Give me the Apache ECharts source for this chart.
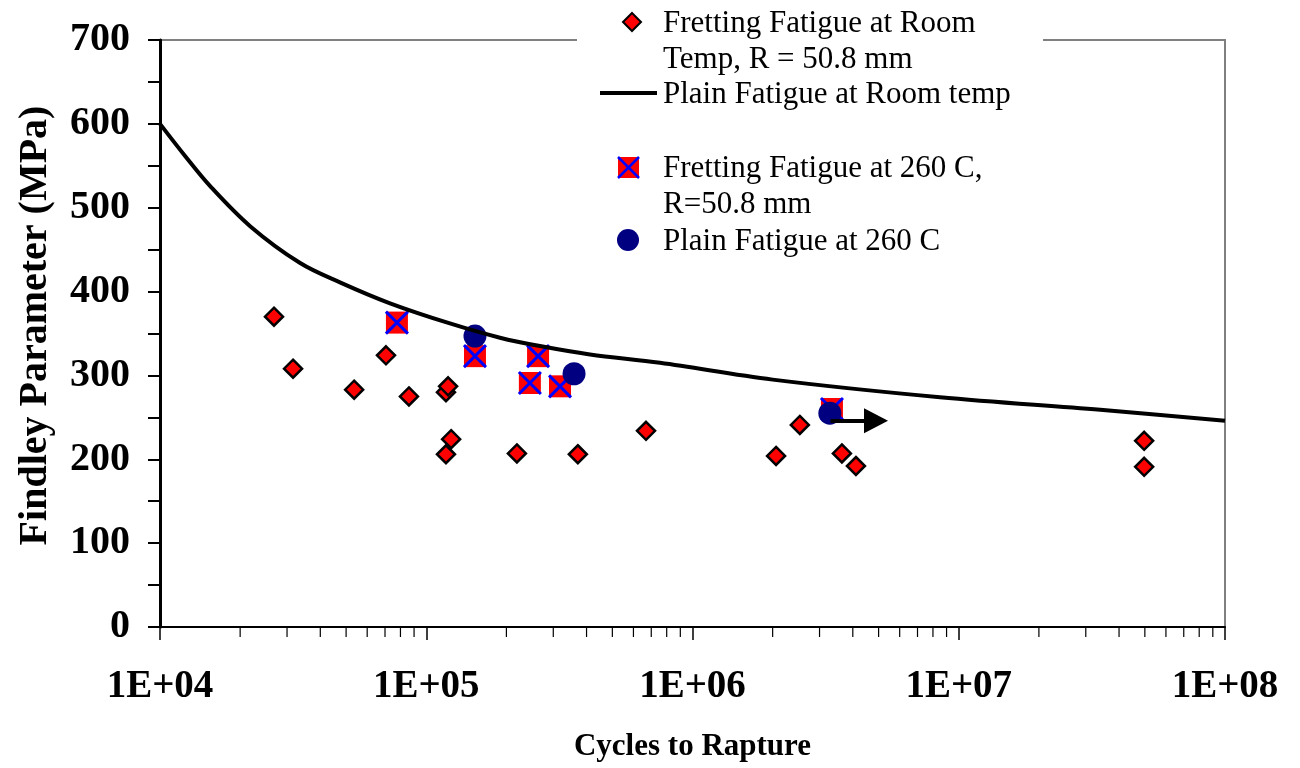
<!DOCTYPE html>
<html>
<head>
<meta charset="utf-8">
<script src="https://cdn.jsdelivr.net/npm/echarts@6/dist/echarts.min.js"></script>
<style>
  html, body { margin: 0; padding: 0; background: #fff; }
  #chart-container { width: 1300px; height: 768px; }
</style>
</head>
<body>
<div id="chart-container"></div>
<script>
'use strict';

// Fretting fatigue at room temp, R = 50.8 mm  [cycles, MPa]
const frettingRoom = [
    [26800, 370], [31600, 308], [53600, 283], [70600, 324], [86100, 275],
    [118600, 280], [120800, 287], [124000, 224], [118600, 206], [219000, 207],
    [371000, 206], [669000, 234], [2060000, 204], [2530000, 241], [3640000, 207],
    [4110000, 192], [49700000, 222], [49700000, 191]
];

// Plain fatigue at room temp (curve)
const plainRoom = [
    [10000, 600], [12400, 562], [15400, 526], [21800, 478], [33600, 434],
    [47400, 411], [73100, 386], [122700, 362], [189200, 345], [267300, 335],
    [412000, 325], [755000, 315], [2000000, 295], [8500000, 274], [34000000, 259],
    [100000000, 246]
];

// Fretting fatigue at 260 C, R = 50.8 mm
const fretting260 = [
    [77600, 363], [152400, 323], [263000, 323], [245000, 291], [318000, 287], [3340000, 260]
];

// Plain fatigue at 260 C
const plain260 = [
    [152400, 347], [359000, 302], [3280000, 255]
];

// run-out arrow on the last plain 260 C point
const runoutArrow = [[3300000, 246], [4890000, 246]];

// log minor ticks 2..9 in every decade
const minorTicks = [
    20000, 30000, 40000, 50000, 60000, 70000, 80000, 90000,
    200000, 300000, 400000, 500000, 600000, 700000, 800000, 900000,
    2000000, 3000000, 4000000, 5000000, 6000000, 7000000, 8000000, 9000000,
    20000000, 30000000, 40000000, 50000000, 60000000, 70000000, 80000000, 90000000
];

const xTickLabels = { 10000: '1E+04', 100000: '1E+05', 1000000: '1E+06', 10000000: '1E+07', 100000000: '1E+08' };

const serif = '"Liberation Serif", "Times New Roman", "DejaVu Serif", serif';

const myChart = echarts.init(document.getElementById('chart-container'), null, { renderer: 'canvas' });

const option = {
    backgroundColor: '#fff',
    animation: false,
    grid: {
        left: 160,
        right: 75,
        top: 40,
        bottom: 141,
        outerBoundsMode: 'none',
        containLabel: false,
        show: true,
        borderColor: '#808080',
        borderWidth: 2
    },
    xAxis: {
        type: 'log',
        logBase: 10,
        min: 10000,
        max: 100000000,
        name: 'Cycles to Rapture',
        nameLocation: 'middle',
        nameGap: 104,
        nameTextStyle: { fontFamily: serif, fontWeight: 'bold', fontSize: 31, color: '#000' },
        axisLine: { lineStyle: { color: '#000', width: 2 } },
        axisTick: { inside: false, length: 13, lineStyle: { color: '#000', width: 1.5 } },
        minorTick: { show: false },
        splitLine: { show: false },
        axisLabel: {
            margin: 40,
            fontFamily: serif,
            fontWeight: 'bold',
            fontSize: 39,
            color: '#000',
            formatter: (v) => xTickLabels[Math.round(v)] || ''
        }
    },
    yAxis: {
        type: 'value',
        min: 0,
        max: 700,
        interval: 50,
        name: 'Findley Parameter (MPa)',
        nameLocation: 'middle',
        nameGap: 104,
        nameRotate: 90,
        nameTextStyle: { fontFamily: serif, fontWeight: 'bold', fontSize: 40, color: '#000', padding: [0, 0, 0, 16] },
        axisLine: { show: true, lineStyle: { color: '#000', width: 3 } },
        axisTick: { show: true, inside: false, length: 12, lineStyle: { color: '#000', width: 2 } },
        splitLine: { show: false },
        axisLabel: {
            margin: 30,
            fontFamily: serif,
            fontWeight: 'bold',
            fontSize: 40,
            color: '#000',
            formatter: (v) => (v % 100 === 0 ? String(v) : '')
        }
    },
    series: [
        {
            name: 'minor ticks',
            type: 'custom',
            clip: false,
            silent: true,
            data: minorTicks.map(v => [v, 0]),
            encode: { x: 0, y: 1 },
            renderItem: (params, api) => {
                const p = api.coord([api.value(0), 0]);
                return {
                    type: 'line',
                    shape: { x1: p[0], y1: p[1], x2: p[0], y2: p[1] + 10 },
                    style: { stroke: '#000', lineWidth: 1.2 }
                };
            }
        },
        {
            name: 'Fretting Fatigue at Room Temp, R = 50.8 mm',
            type: 'scatter',
            symbol: 'diamond',
            symbolSize: 18,
            data: frettingRoom,
            itemStyle: { color: '#ff0000', borderColor: '#000', borderWidth: 2.5, opacity: 1 }
        },
        {
            name: 'Plain Fatigue at Room temp',
            type: 'line',
            smooth: 0.35,
            showSymbol: false,
            symbol: 'none',
            data: plainRoom,
            lineStyle: { color: '#000', width: 4 }
        },
        {
            name: 'Fretting Fatigue at 260 C, R=50.8 mm',
            type: 'custom',
            data: fretting260,
            encode: { x: 0, y: 1 },
            renderItem: (params, api) => {
                const p = api.coord([api.value(0), api.value(1)]);
                const h = 11;
                return {
                    type: 'group',
                    children: [
                        { type: 'rect', shape: { x: p[0] - h, y: p[1] - h, width: 2 * h, height: 2 * h }, style: { fill: '#ff0000' } },
                        { type: 'line', shape: { x1: p[0] - h, y1: p[1] - h, x2: p[0] + h, y2: p[1] + h }, style: { stroke: '#0000ff', lineWidth: 3 } },
                        { type: 'line', shape: { x1: p[0] + h, y1: p[1] - h, x2: p[0] - h, y2: p[1] + h }, style: { stroke: '#0000ff', lineWidth: 3 } }
                    ]
                };
            }
        },
        {
            name: 'run-out',
            type: 'line',
            data: [],
            markLine: {
                silent: true,
                symbol: ['none', 'triangle'],
                symbolSize: [25, 24],
                label: { show: false },
                lineStyle: { color: '#000', width: 4, type: 'solid' },
                data: [[{ coord: runoutArrow[0] }, { coord: runoutArrow[1] }]]
            }
        },
        {
            name: 'Plain Fatigue at 260 C',
            type: 'scatter',
            symbol: 'circle',
            symbolSize: 23,
            data: plain260,
            itemStyle: { color: '#000080', opacity: 1 }
        }
    ],
    graphic: [
        { type: 'rect', z: 100, shape: { x: 577, y: 0, width: 466, height: 258 }, style: { fill: '#fff' } },
        { type: 'polygon', z: 101, shape: { points: [[632, 13], [641, 22], [632, 31], [623, 22]] }, style: { fill: '#ff0000', stroke: '#000', lineWidth: 2 } },
        { type: 'line', z: 101, shape: { x1: 600, y1: 93, x2: 657, y2: 93 }, style: { stroke: '#000', lineWidth: 4 } },
        { type: 'rect', z: 101, shape: { x: 618, y: 157, width: 21, height: 21 }, style: { fill: '#ff0000' } },
        { type: 'line', z: 102, shape: { x1: 618, y1: 157, x2: 639, y2: 178 }, style: { stroke: '#0000ff', lineWidth: 2.5 } },
        { type: 'line', z: 102, shape: { x1: 639, y1: 157, x2: 618, y2: 178 }, style: { stroke: '#0000ff', lineWidth: 2.5 } },
        { type: 'circle', z: 101, shape: { cx: 628, cy: 240, r: 11 }, style: { fill: '#000080' } },
        { type: 'text', z: 101, x: 663, y: 6, style: { text: 'Fretting Fatigue at Room\nTemp, R = 50.8 mm', font: '31px ' + serif, lineHeight: 36, fill: '#000', verticalAlign: 'top' } },
        { type: 'text', z: 101, x: 663, y: 77, style: { text: 'Plain Fatigue at Room temp', font: '31px ' + serif, lineHeight: 36, fill: '#000', verticalAlign: 'top' } },
        { type: 'text', z: 101, x: 663, y: 151, style: { text: 'Fretting Fatigue at 260 C,\nR=50.8 mm', font: '31px ' + serif, lineHeight: 36, fill: '#000', verticalAlign: 'top' } },
        { type: 'text', z: 101, x: 663, y: 224, style: { text: 'Plain Fatigue at 260 C', font: '31px ' + serif, lineHeight: 36, fill: '#000', verticalAlign: 'top' } }
    ]
};

myChart.setOption(option);
window.addEventListener('resize', myChart.resize);
</script>
</body>
</html>
